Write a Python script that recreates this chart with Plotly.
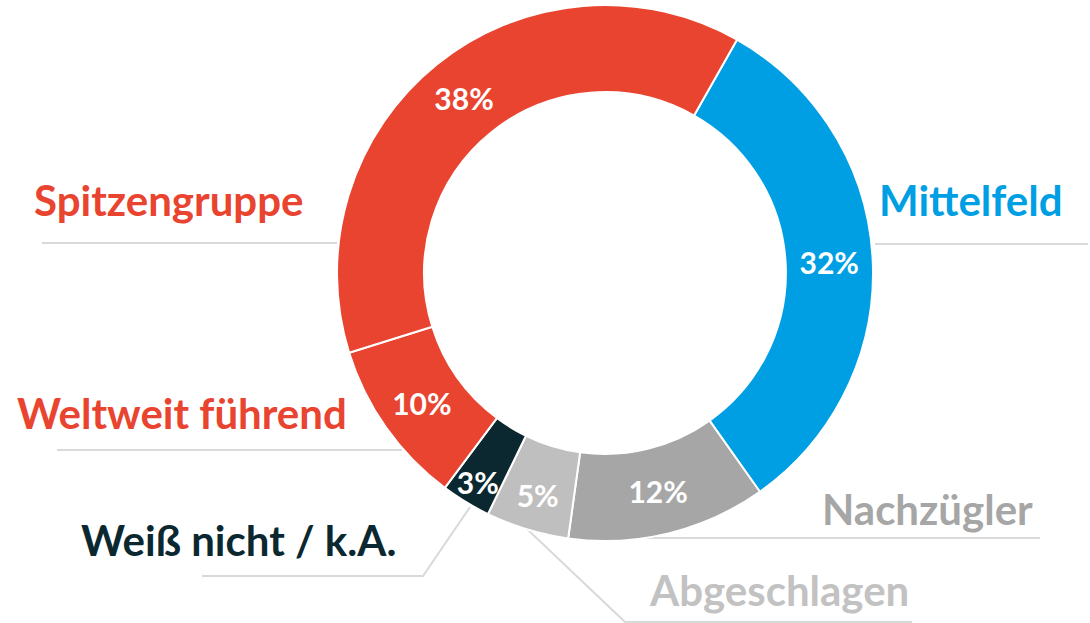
import plotly.graph_objects as go

# ---- data ----
categories = ["Mittelfeld", "Nachzügler", "Abgeschlagen", "Weiß nicht / k.A.", "Weltweit führend", "Spitzengruppe"]
values = [32, 12, 5, 3, 10, 38]
slice_colors = ["#009FE3", "#A6A6A6", "#BFBFBF", "#0B2830", "#E84430", "#E84430"]
label_colors = ["#009FE3", "#A6A6A6", "#C2C2C2", "#0B2830", "#E84430", "#E84430"]

W, H = 1090, 623
FONT = "Lato"

def px(x):
    return x / W

def py(y):
    return 1 - y / H

cx, cy, r = 605, 273, 268

fig = go.Figure()
fig.add_trace(go.Pie(
    labels=categories,
    values=values,
    sort=False,
    direction="clockwise",
    rotation=29.5,
    hole=0.675,
    marker=dict(colors=slice_colors, line=dict(color="white", width=2)),
    texttemplate="%{value}%",
    textposition="inside",
    insidetextorientation="horizontal",
    textfont=dict(family=FONT, size=30, color="white", weight="bold"),
    showlegend=False,
    hoverinfo="label+value",
    domain=dict(x=[px(cx - r), px(cx + r)], y=[py(cy + r), py(cy - r)]),
))

# category labels (text positions: left x, vertical middle y in pixels)
label_pos = {
    "Spitzengruppe": (32, 200),
    "Mittelfeld": (877, 200),
    "Weltweit führend": (15, 413),
    "Weiß nicht / k.A.": (79, 540),
    "Nachzügler": (820, 509),
    "Abgeschlagen": (647, 590),
}
annotations = []
for cat, col in zip(categories, label_colors):
    x, y = label_pos[cat]
    annotations.append(dict(
        text=cat, x=px(x), y=py(y), xref="paper", yref="paper",
        xanchor="left", yanchor="middle", showarrow=False,
        font=dict(family=FONT, size=42, color=col, weight="bold"),
    ))

# leader lines
line_style = dict(color="#D9D9D9", width=2)
leader_paths = [
    [(42, 243), (337, 243)],
    [(875, 244), (1088, 244)],
    [(57, 450), (402, 450)],
    [(202, 576), (423, 576), (470, 507)],
    [(645, 538), (1040, 538)],
    [(527, 529), (625, 622), (912, 622)],
]
shapes = []
for pts in leader_paths:
    path = "M " + " L ".join(f"{px(x)},{py(y)}" for x, y in pts)
    shapes.append(dict(type="path", path=path, xref="paper", yref="paper",
                       line=line_style, layer="below"))

fig.update_layout(
    width=W, height=H,
    margin=dict(l=0, r=0, t=0, b=0),
    paper_bgcolor="white",
    plot_bgcolor="white",
    annotations=annotations,
    shapes=shapes,
    uniformtext=dict(minsize=30, mode="show"),
    font=dict(family=FONT),
)

fig.write_html("out.html")
